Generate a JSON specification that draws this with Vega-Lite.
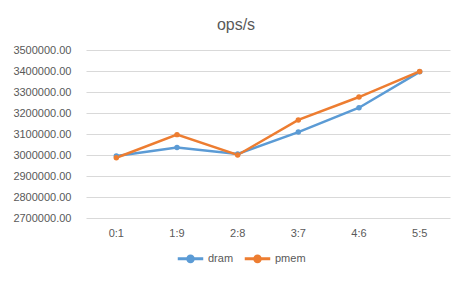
{
  "$schema": "https://vega.github.io/schema/vega-lite/v6.json",
  "width": 364,
  "height": 168,
  "autosize": {"type": "none"},
  "padding": {"left": 86, "top": 50, "right": 18, "bottom": 65},
  "background": "white",
  "config": {
    "font": "Liberation Sans",
    "view": {"stroke": null}
  },
  "title": {
    "text": "ops/s",
    "fontSize": 16,
    "fontWeight": "normal",
    "color": "#595959",
    "anchor": "middle",
    "frame": "group",
    "dx": -32,
    "offset": 11
  },
  "data": {
    "values": [
      {"ratio": "0:1", "series": "dram", "ops": 2995000},
      {"ratio": "1:9", "series": "dram", "ops": 3036000},
      {"ratio": "2:8", "series": "dram", "ops": 3005000},
      {"ratio": "3:7", "series": "dram", "ops": 3109000},
      {"ratio": "4:6", "series": "dram", "ops": 3225000},
      {"ratio": "5:5", "series": "dram", "ops": 3396000},
      {"ratio": "0:1", "series": "pmem", "ops": 2987000},
      {"ratio": "1:9", "series": "pmem", "ops": 3097000},
      {"ratio": "2:8", "series": "pmem", "ops": 3000000},
      {"ratio": "3:7", "series": "pmem", "ops": 3167000},
      {"ratio": "4:6", "series": "pmem", "ops": 3276000},
      {"ratio": "5:5", "series": "pmem", "ops": 3398000}
    ]
  },
  "mark": {
    "type": "line",
    "strokeWidth": 2.5,
    "point": {"filled": true, "size": 30}
  },
  "encoding": {
    "x": {
      "field": "ratio",
      "type": "nominal",
      "sort": null,
      "scale": {"type": "band", "paddingInner": 0, "paddingOuter": 0},
      "axis": {
        "title": null,
        "labelAngle": 0,
        "domain": false,
        "ticks": false,
        "labelPadding": 9,
        "labelFontSize": 11,
        "labelColor": "#595959"
      }
    },
    "y": {
      "field": "ops",
      "type": "quantitative",
      "scale": {"domain": [2700000, 3500000], "nice": false, "zero": false},
      "axis": {
        "title": null,
        "format": ".2f",
        "values": [2700000, 2800000, 2900000, 3000000, 3100000, 3200000, 3300000, 3400000, 3500000],
        "labelOverlap": false,
        "domain": false,
        "ticks": false,
        "labelPadding": 15,
        "labelFontSize": 11,
        "labelColor": "#595959",
        "gridColor": "#D9D9D9",
        "gridWidth": 1
      }
    },
    "color": {
      "field": "series",
      "type": "nominal",
      "scale": {"domain": ["dram", "pmem"], "range": ["#5B9BD5", "#ED7D31"]},
      "legend": {
        "title": null,
        "orient": "none",
        "direction": "horizontal",
        "legendX": 90,
        "legendY": 194,
        "labelFontSize": 11,
        "labelColor": "#595959",
        "labelOffset": 3,
        "columnPadding": 4,
        "symbolType": "M-1,0H1M-0.22,0A0.22,0.22 0 1,0 0.22,0A0.22,0.22 0 1,0 -0.22,0",
        "symbolSize": 650,
        "symbolStrokeWidth": 3
      }
    }
  }
}
